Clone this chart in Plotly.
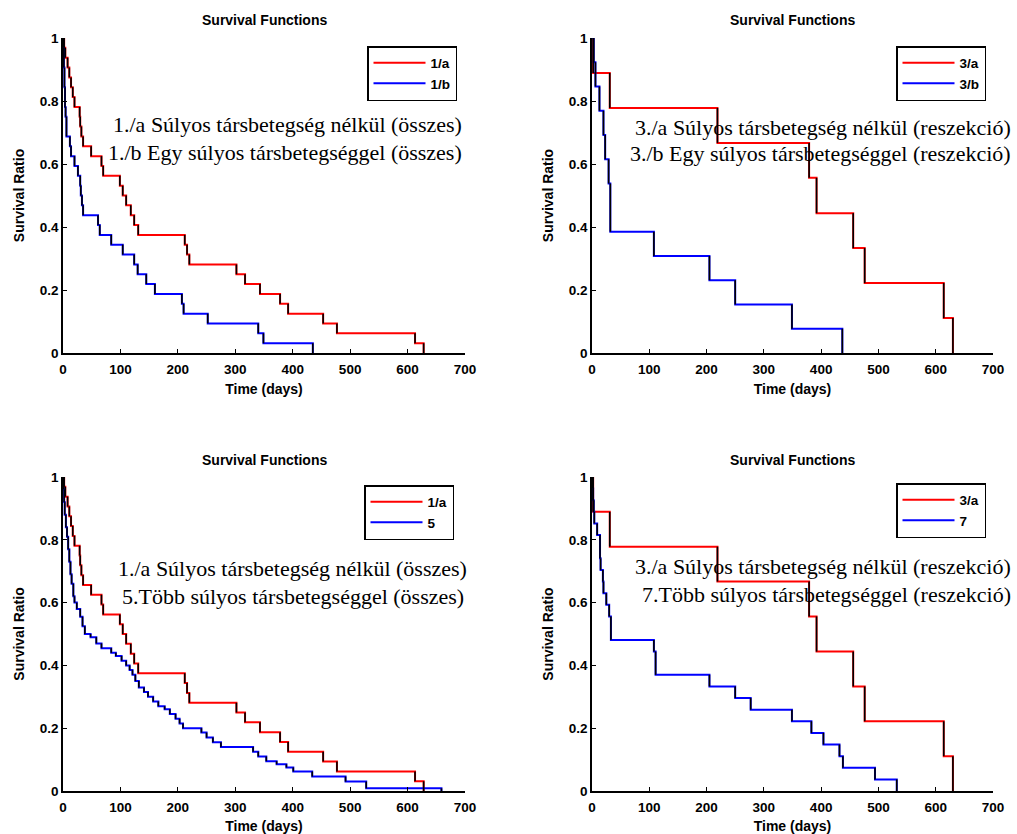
import plotly.graph_objects as go

# ---------------- data ----------------
# Kaplan-Meier step curves: times (days) where survival drops, and survival after each drop
t_1a = [0, 2, 4, 8, 11, 14, 17, 20, 29, 30, 32, 35, 49, 67, 70, 99, 104, 110, 118, 124, 131,
        212, 216, 220, 302, 317, 343, 378, 392, 453, 477, 613, 628]
s_1a = [1.0, 0.969, 0.9375, 0.906, 0.875, 0.844, 0.8125, 0.781, 0.75, 0.719, 0.6875, 0.656,
        0.625, 0.594, 0.5625, 0.531, 0.5, 0.469, 0.4375, 0.406, 0.375,
        0.344, 0.3125, 0.281, 0.25, 0.219, 0.1875, 0.156, 0.125, 0.094, 0.0625, 0.031, 0.0]

t_1b = [0, 0.5, 1.5, 2.5, 3.5, 4.5, 6, 12, 14, 20, 26, 30, 31, 33, 35, 61, 64, 84, 104, 124,
        130, 145, 160, 207, 210, 252, 340, 349, 435]
s_1b = [1.0, 0.969, 0.906, 0.844, 0.781, 0.75, 0.6875, 0.656, 0.625, 0.594, 0.5625, 0.531,
        0.5, 0.469, 0.4375, 0.406, 0.375, 0.344, 0.3125, 0.281,
        0.25, 0.219, 0.1875, 0.156, 0.125, 0.094, 0.0625, 0.031, 0.0]

t_5 = [0, 1, 2, 3, 5, 7, 9, 11, 13, 15, 18, 20, 24, 30, 34, 38, 48, 58, 67, 84, 92, 102, 110,
       116, 121, 126, 132, 141, 148, 157, 166, 177, 186, 196, 203, 209, 241, 250, 261, 275,
       331, 340, 354, 372, 389, 401, 434, 492, 528, 659]
s_5 = [1.0, 0.96, 0.92, 0.88, 0.84, 0.81, 0.77, 0.73, 0.69, 0.66, 0.62, 0.60, 0.58, 0.555,
       0.525, 0.50, 0.49, 0.47, 0.455, 0.44, 0.43, 0.415, 0.40, 0.385, 0.37, 0.35, 0.33,
       0.315, 0.30, 0.285, 0.27, 0.26, 0.245, 0.23, 0.215, 0.20, 0.186, 0.17, 0.155, 0.14,
       0.125, 0.11, 0.095, 0.085, 0.075, 0.062, 0.046, 0.03, 0.0085, 0.0]

t_3a = [0, 2, 31, 219, 379, 392, 456, 476, 614, 630]
s_3a = [1.0, 0.889, 0.778, 0.667, 0.556, 0.444, 0.333, 0.222, 0.111, 0.0]

t_3b = [0, 3, 6, 13, 20, 23, 29, 32, 108, 205, 250, 349, 437]
s_3b = [1.0, 0.923, 0.846, 0.769, 0.692, 0.615, 0.538, 0.385, 0.308, 0.231, 0.154, 0.077, 0.0]

t_7 = [0, 1, 2, 3, 4, 9, 14, 15, 19, 20, 25, 30, 33, 108, 111, 205, 250, 277, 349, 383, 404,
       432, 438, 494, 532]
s_7 = [1.0, 0.963, 0.926, 0.889, 0.852, 0.815, 0.741, 0.704, 0.667, 0.63, 0.593, 0.556,
       0.481, 0.444, 0.370, 0.333, 0.296, 0.259, 0.222, 0.185, 0.148, 0.111, 0.074, 0.037, 0.0]

x_ticks = [0, 100, 200, 300, 400, 500, 600, 700]
y_ticks = [0, 0.2, 0.4, 0.6, 0.8, 1]
y_tick_labels = ["0", "0.2", "0.4", "0.6", "0.8", "1"]

panels = [
    # (red series, blue series, legend labels, annotation lines)
    ((t_1a, s_1a), (t_1b, s_1b), ("1/a", "1/b"),
     ("1./a Súlyos társbetegség nélkül (összes)", "1./b Egy súlyos társbetegséggel (összes)")),
    ((t_3a, s_3a), (t_3b, s_3b), ("3/a", "3/b"),
     ("3./a Súlyos társbetegség nélkül (reszekció)", "3./b Egy súlyos társbetegséggel (reszekció)")),
    ((t_1a, s_1a), (t_5, s_5), ("1/a", "5"),
     ("1./a Súlyos társbetegség nélkül (összes)", "5.Több súlyos társbetegséggel (összes)")),
    ((t_3a, s_3a), (t_7, s_7), ("3/a", "7"),
     ("3./a Súlyos társbetegség nélkül (reszekció)", "7.Több súlyos társbetegséggel (reszekció)")),
]

# ---------------- layout helpers (pixel -> paper) ----------------
W, H = 1017, 834
ML, MR, MT, MB = 63, 24, 38, 43
PW, PH = W - ML - MR, H - MT - MB


def fx(px):
    return (px - ML) / PW


def fy(py):
    return 1 - (py - MT) / PH


# plot boxes in pixels: (left, right, top, bottom)
boxes = [(63, 465, 38, 353), (592, 993, 38, 353), (63, 465, 477, 791), (592, 993, 477, 791)]
title_y = [20, 20, 460, 460]
legend_pos = [(457, 46), (986, 46), (454, 485), (986, 483)]
ann_pos = [((464, 124), (464, 152)), ((1013, 127), (1013, 153)),
           ((469, 568), (466, 596)), ((1013, 566), (1013, 594))]

RED = "#ff0000"
BLUE = "#0000ff"
SANS = "Liberation Sans, Arial, sans-serif"
SERIF = "Liberation Serif, Times New Roman, serif"

fig = go.Figure()
annotations = []
layout_updates = {}

for i, (red, blue, labels, texts) in enumerate(panels):
    n = i + 1
    xa = "x" if n == 1 else f"x{n}"
    ya = "y" if n == 1 else f"y{n}"
    lg = "legend" if n == 1 else f"legend{n}"
    for (tt, ss), col, lab in ((red, RED, labels[0]), (blue, BLUE, labels[1])):
        fig.add_trace(go.Scatter(x=tt, y=ss, mode="lines", line=dict(color=col, width=2, shape="hv"),
                                 name=lab, xaxis=xa, yaxis=ya, legend=lg, showlegend=True,
                                 hoverinfo="skip"))
    for (tt, ss) in (red, blue):
        vx, vy = [], []
        for k in range(1, len(tt)):
            vx += [tt[k], tt[k], None]
            vy += [ss[k - 1], ss[k], None]
        fig.add_trace(go.Scatter(x=vx, y=vy, mode="lines", line=dict(color="black", width=1.6),
                                 xaxis=xa, yaxis=ya, showlegend=False, hoverinfo="skip"))

    l, r, t, b = boxes[i]
    axis_common = dict(showline=True, linecolor="black", linewidth=1.5, ticks="inside", ticklen=4,
                       tickcolor="black", tickwidth=1, showgrid=False, zeroline=False,
                       tickfont=dict(family=SANS, size=13.5, color="black", weight="bold"),
                       automargin=False, mirror=False)
    layout_updates["xaxis" if n == 1 else f"xaxis{n}"] = dict(
        axis_common, domain=[fx(l), fx(r)], range=[0, 700], tickvals=x_ticks, anchor=ya,
        ticklabelstandoff=3,
        title=dict(text="Time (days)", font=dict(family=SANS, size=14, color="black", weight="bold"),
                   standoff=8))
    layout_updates["yaxis" if n == 1 else f"yaxis{n}"] = dict(
        axis_common, domain=[fy(b), fy(t)], range=[0, 1], tickvals=y_ticks, ticktext=y_tick_labels,
        anchor=xa,
        title=dict(text="Survival Ratio", font=dict(family=SANS, size=14, color="black", weight="bold"),
                   standoff=12))
    lx, ly = legend_pos[i]
    layout_updates[lg] = dict(x=fx(lx), y=fy(ly), xanchor="right", yanchor="top",
                              bordercolor="black", borderwidth=1.5, bgcolor="white",
                              font=dict(family=SANS, size=13.5, color="black", weight="bold"),
                              itemwidth=52, tracegroupgap=0)
    annotations.append(dict(text="Survival Functions", x=fx((l + r) / 2), y=fy(title_y[i]),
                            xref="paper", yref="paper", showarrow=False, xanchor="center",
                            yanchor="middle",
                            font=dict(family=SANS, size=14, color="black", weight="bold")))
    for txt, (ax_, ay_) in zip(texts, ann_pos[i]):
        annotations.append(dict(text=txt, x=fx(ax_), y=fy(ay_), xref="paper", yref="paper",
                                showarrow=False, xanchor="right", yanchor="middle",
                                font=dict(family=SERIF, size=22, color="black")))

fig.update_layout(**layout_updates)
fig.update_layout(width=W, height=H, margin=dict(l=ML, r=MR, t=MT, b=MB),
                  plot_bgcolor="white", paper_bgcolor="white", annotations=annotations,
                  showlegend=True)
fig.write_html("out.html", config={"displayModeBar": False},
               post_script="document.body.style.margin='0px';document.body.style.overflow='hidden';")
